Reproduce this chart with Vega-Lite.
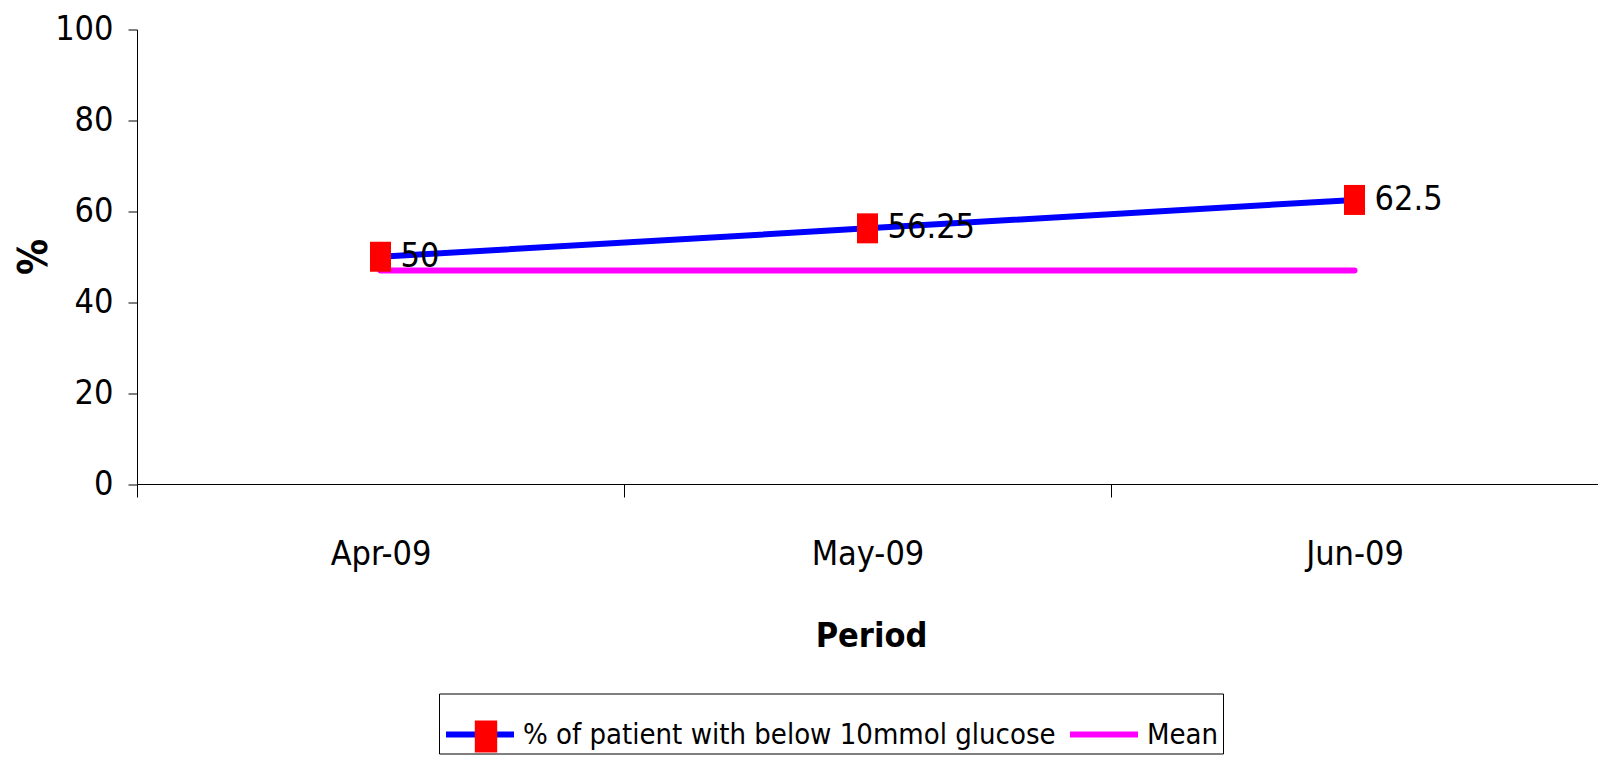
{
  "$schema": "https://vega.github.io/schema/vega-lite/v6.json",
  "width": 1461,
  "height": 454.5,
  "autosize": "none",
  "padding": {"left": 137, "top": 29.5, "right": 0, "bottom": 285},
  "background": "white",
  "config": {
    "view": {"stroke": null},
    "font": "DejaVu Sans Condensed, Liberation Sans Narrow, sans-serif"
  },
  "data": {
    "values": [
      {"period": "Apr-09", "value": 50, "series": "% of patient with below 10mmol glucose"},
      {"period": "May-09", "value": 56.25, "series": "% of patient with below 10mmol glucose"},
      {"period": "Jun-09", "value": 62.5, "series": "% of patient with below 10mmol glucose"},
      {"period": "Apr-09", "value": 47, "series": "Mean"},
      {"period": "May-09", "value": 47, "series": "Mean"},
      {"period": "Jun-09", "value": 47, "series": "Mean"}
    ]
  },
  "encoding": {
    "x": {
      "field": "period",
      "type": "nominal",
      "sort": ["Apr-09", "May-09", "Jun-09"],
      "scale": {"type": "band", "paddingInner": 0, "paddingOuter": 0},
      "axis": {
        "title": "Period",
        "labelAngle": 0,
        "labelFontSize": 34,
        "labelColor": "black",
        "labelPadding": 40,
        "tickBand": "extent",
        "tickSize": 13,
        "tickColor": "black",
        "domainColor": "black",
        "titleFontSize": 34,
        "titleFontWeight": "bold",
        "titleColor": "black",
        "titleX": 734,
        "titleY": 162,
        "titleBaseline": "alphabetic",
        "titleAlign": "center"
      }
    },
    "y": {
      "field": "value",
      "type": "quantitative",
      "scale": {"domain": [0, 100], "nice": false, "zero": true},
      "axis": {
        "title": "%",
        "values": [0, 20, 40, 60, 80, 100],
        "grid": false,
        "labelFontSize": 34,
        "labelColor": "black",
        "labelPadding": 15,
        "tickSize": 9,
        "tickColor": "black",
        "domainColor": "black",
        "titleFontSize": 40,
        "titleFontWeight": "bold",
        "titleColor": "black",
        "titleAngle": -90,
        "titleX": -103,
        "titleY": 227,
        "titleBaseline": "middle",
        "titleAlign": "center"
      }
    }
  },
  "layer": [
    {
      "mark": {"type": "line", "strokeWidth": 6, "strokeCap": "round"},
      "encoding": {
        "stroke": {
          "field": "series",
          "type": "nominal",
          "scale": {"domain": ["% of patient with below 10mmol glucose", "Mean"], "range": ["#0000FF", "#FF00FF"]},
          "legend": {
            "title": null,
            "orient": "none",
            "legendX": 302,
            "legendY": 664,
            "direction": "horizontal",
            "symbolType": "stroke",
            "symbolSize": 4624,
            "symbolStrokeWidth": 6,
            "labelFontSize": 29,
            "labelColor": "black",
            "labelLimit": 0,
            "labelOffset": 6,
            "columnPadding": 2,
            "padding": 4,
            "strokeColor": "black",
            "fillColor": "white"
          }
        }
      }
    },
    {
      "transform": [{"filter": "datum.series !== 'Mean'"}],
      "mark": {"type": "point", "shape": "M-0.7,-1H0.7V1H-0.7Z", "size": 900, "filled": true, "opacity": 1, "strokeWidth": 0},
      "encoding": {
        "fill": {
          "field": "series",
          "type": "nominal",
          "scale": {"domain": ["% of patient with below 10mmol glucose"], "range": ["#FF0000"]},
          "legend": {
            "title": null,
            "orient": "none",
            "legendX": 333,
            "legendY": 691,
            "symbolType": "M-0.7,-1H0.7V1H-0.7Z",
            "symbolSize": 1024,
            "symbolStrokeWidth": 0,
            "symbolOpacity": 1,
            "labelExpr": "''",
            "padding": 0
          }
        }
      }
    },
    {
      "transform": [{"filter": "datum.series !== 'Mean'"}],
      "mark": {"type": "text", "align": "left", "baseline": "middle", "dx": 20, "fontSize": 34, "color": "black"},
      "encoding": {
        "text": {"field": "value", "type": "quantitative", "format": "~f"}
      }
    }
  ]
}
